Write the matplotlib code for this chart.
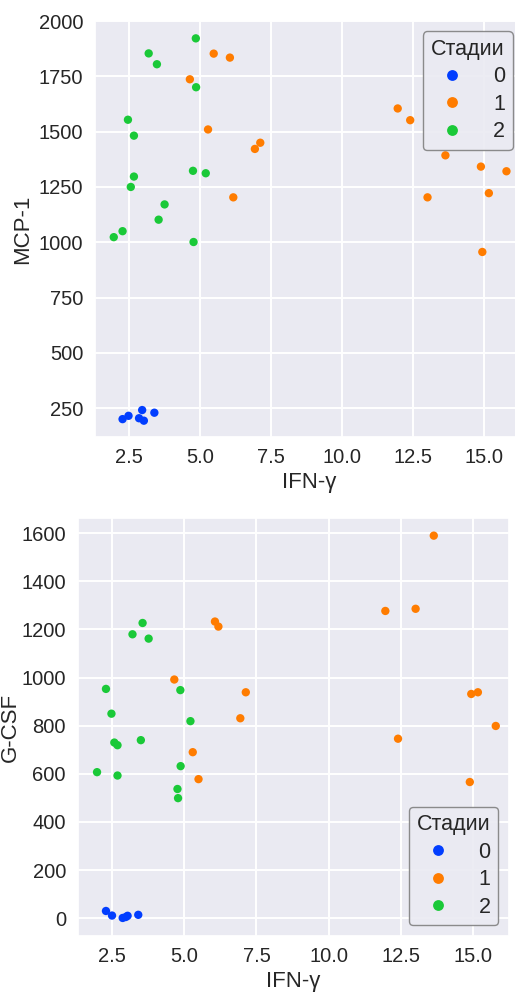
import numpy as np
import pandas as pd
import seaborn as sns
import matplotlib
matplotlib.use('Agg')
import matplotlib.pyplot as plt

# values
stage = [0] * 6 + [1] * 15 + [2] * 15
ifn = [2.28, 2.49, 2.86, 2.97, 3.03, 3.40,
       4.65, 5.29, 5.49, 6.06, 6.18, 6.94, 7.13, 11.97, 12.41, 13.02, 13.65, 14.90, 14.95, 15.18, 15.80,
       1.97, 2.28, 2.47, 2.57, 2.68, 2.68, 3.20, 3.49, 3.55, 3.76, 4.76, 4.78, 4.86, 4.87, 5.21]
mcp1 = [200, 215, 204, 241, 193, 229,
        1737, 1510, 1853, 1835, 1203, 1422, 1450, 1605, 1552, 1203, 1393, 1342, 956, 1222, 1321,
        1023, 1050, 1554, 1250, 1482, 1297, 1854, 1805, 1102, 1171, 1323, 1001, 1922, 1701, 1312]
gcsf = [30, 11, 1, 5, 10, 14,
        992, 690, 578, 1233, 1212, 831, 939, 1277, 746, 1286, 1590, 566, 932, 939, 799,
        607, 953, 850, 730, 719, 593, 1180, 740, 1227, 1162, 537, 499, 948, 632, 819]

df = pd.DataFrame({'IFN-γ': ifn, 'MCP-1': mcp1, 'G-CSF': gcsf, 'Стадии': stage})

sns.set_theme(style='darkgrid')
plt.rcParams['font.family'] = ['Liberation Sans', 'DejaVu Sans']
plt.rcParams['grid.linewidth'] = 1.4

fig = plt.figure(figsize=(5.15, 9.94), dpi=100)
ax1 = fig.add_axes([0.1845, 0.5601, 0.832, 0.4191])
ax2 = fig.add_axes([0.1509, 0.05835, 0.8375, 0.4202])

for ax, col, xlim, ylim, loc, lpad in [(ax1, 'MCP-1', (1.31, 16.40), (118, 2002), 'upper right', 4),
                                       (ax2, 'G-CSF', (1.30, 16.26), (-74, 1662), 'lower right', 0.5)]:
    sns.scatterplot(data=df, x='IFN-γ', y=col, hue='Стадии', palette='bright',
                    s=36, linewidth=0, ax=ax)
    ax.set_xlim(*xlim)
    ax.set_ylim(*ylim)
    ax.set_xticks([2.5, 5.0, 7.5, 10.0, 12.5, 15.0])
    ax.tick_params(axis='x', length=0, pad=7.6, labelsize=14.5)
    ax.tick_params(axis='y', length=0, pad=8.5, labelsize=14.5)
    ax.set_xlabel('IFN-γ', fontsize=16)
    ax.set_ylabel(col, fontsize=16, labelpad=lpad)
    ax.legend(title='Стадии', loc=loc, fontsize=15.5, title_fontsize=15.5,
              edgecolor='0.5', markerscale=1.3, handletextpad=0.9,
              labelspacing=0.3, borderpad=0.35, framealpha=0.9)

fig.savefig('out.png', dpi=100)
